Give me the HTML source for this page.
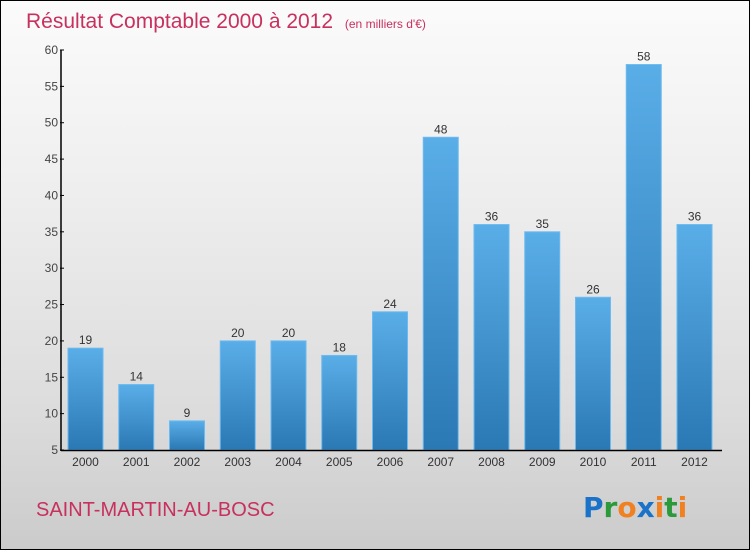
<!DOCTYPE html>
<html><head><meta charset="utf-8"><style>
body{margin:0;}
#wrap{position:relative;width:748px;height:548px;border:1px solid #000;background:linear-gradient(#fbfbfb,#f0f0f0 30%,#dcdcdc 75%,#cbcbcb);font-family:"Liberation Sans",sans-serif;overflow:hidden}
</style></head><body>
<div id="wrap">
<svg width="748" height="548">
<defs><linearGradient id="bg" x1="0" y1="0" x2="0" y2="1"><stop offset="0" stop-color="#5aaee8"/><stop offset="1" stop-color="#2a78b4"/></linearGradient></defs>
<text x="25" y="27" font-size="21" fill="#c8305e">Résultat Comptable 2000 à 2012 <tspan font-size="12" dx="6">(en milliers d'€)</tspan></text>
<g id="plot"></g>
<text x="35" y="515" font-size="20" fill="#c8305e">SAINT-MARTIN-AU-BOSC</text>
<text x="582" y="516" font-size="28" font-weight="bold" font-family="'DejaVu Sans',sans-serif"><tspan fill="#1a73c8">P</tspan><tspan fill="#2a9a3a">r</tspan><tspan fill="#f08020">o</tspan><tspan fill="#1a73c8">x</tspan><tspan fill="#f08020">i</tspan><tspan fill="#2a9a3a">t</tspan><tspan fill="#f08020">i</tspan></text>
</svg></div>
<script>
const categories=["2000","2001","2002","2003","2004","2005","2006","2007","2008","2009","2010","2011","2012"];
const values=[19,14,9,20,20,18,24,48,36,35,26,58,36];
const yTicks=[5,10,15,20,25,30,35,40,45,50,55,60];
const NS="http://www.w3.org/2000/svg";
const g=document.getElementById('plot');
const y0=449,y1=49,vmin=5,vmax=60,x0=60,x1=721;
const y=v=>y0-(v-vmin)/(vmax-vmin)*(y0-y1);
const step=50.75,first=84.5,bw=35;
const x=i=>first+i*step;
function mk(t,a){const e=document.createElementNS(NS,t);for(const k in a)e.setAttribute(k,a[k]);g.appendChild(e);return e;}
yTicks.forEach(v=>{
 const t=mk('line',{x1:x0-1,x2:x0+3,y1:y(v),y2:y(v),stroke:'#000'});
 
 
 const l=mk('text',{x:x0-3,y:y(v)+4,'text-anchor':'end','font-size':12,fill:'#444'});
 l.textContent=v;
 
 
});
values.forEach((v,i)=>{
 const r=mk('rect',{x:x(i)-bw/2,y:y(v),width:bw,height:y0-y(v),fill:'url(#bg)',stroke:'#6cbaf0','stroke-width':1});
 
 
 const t=mk('text',{x:x(i),y:y(v)-4,'text-anchor':'middle','font-size':12,fill:'#333'});
 t.textContent=v;
 
 
 const c=mk('text',{x:x(i),y:y0+16,'text-anchor':'middle','font-size':12,fill:'#333'});
 c.textContent=categories[i];
 
 
});
const ya=mk('line',{x1:x0,x2:x0,y1:y1,y2:y0+1,stroke:'#000','stroke-width':1.5});


const xa=mk('line',{x1:x0,x2:x1,y1:y0+0.5,y2:y0+0.5,stroke:'#000','stroke-width':1.5});


</script>
</body></html>
